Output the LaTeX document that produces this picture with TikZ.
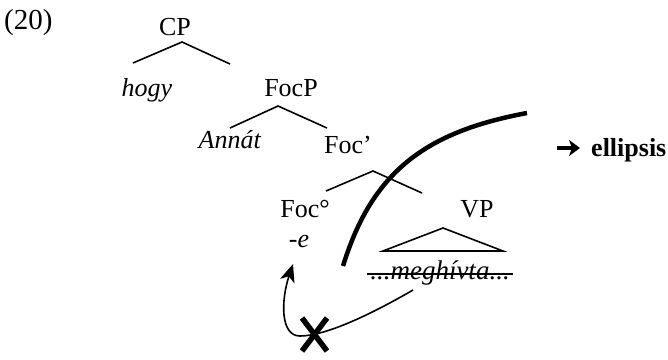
\documentclass[tikz,border=0pt]{standalone}
\usepackage{fontspec}
\setmainfont{Liberation Serif}
\usetikzlibrary{arrows.meta}
\tikzset{
  lbl/.style={font=\fontsize{26}{30}\selectfont, inner sep=0pt, anchor=base},
  branch/.style={line width=1.6pt},
  ellipsiscurve/.style={line width=4.5pt},
  movearrow/.style={line width=1.6pt, -{Stealth[length=18pt,width=15pt,inset=5pt]}},
  crossmark/.style={line width=5.5pt},
  boldarrow/.style={line width=4.5pt, -{Stealth[length=11pt,width=16pt,inset=3pt]}}
}
\begin{document}
\begin{tikzpicture}[x=1pt,y=-1pt]
\useasboundingbox (0,0) rectangle (668,359);
% labels
\node[lbl, anchor=base west, font=\fontsize{29}{32}\selectfont] (ex) at (4,29) {(20)};
\node[lbl] (cp) at (175,35) {CP};
\node[lbl] (hogy) at (147,96) {\textit{hogy}};
\node[lbl] (focp) at (291,96) {FocP};
\node[lbl] (annat) at (230,148) {\textit{Annát}};
\node[lbl] (focbar) at (348,153) {Foc’};
\node[lbl] (foc0) at (305,217) {Foc°};
\node[lbl] (vp) at (477,217) {VP};
\node[lbl] (e) at (299,247) {\textit{-e}};
\node[lbl, font=\fontsize{27}{30}\selectfont] (megh) at (440,279) {\textit{...meghívta...}};
\node[lbl, anchor=base west] (ell) at (591,156) {\textbf{ellipsis}};
\coordinate (arA) at (557,148);
\coordinate (arB) at (580,148);
\draw[boldarrow] (arA) -- (arB);
% tree branch points
\coordinate (cpT) at (182,42);
\coordinate (cpL) at (133,63);
\coordinate (cpR) at (230,64);
\coordinate (fpT) at (278,106);
\coordinate (fpL) at (230,128);
\coordinate (fpR) at (327,128);
\coordinate (fbT) at (373,171);
\coordinate (fbL) at (326,191);
\coordinate (fbR) at (422,193);
\coordinate (vpT) at (443,228);
\coordinate (vpL) at (383,251);
\coordinate (vpR) at (503,251);
\draw[branch] (cpL) -- (cpT) -- (cpR);
\draw[branch] (fpL) -- (fpT) -- (fpR);
\draw[branch] (fbL) -- (fbT) -- (fbR);
\draw[branch] (vpL) -- (vpT) -- (vpR) -- cycle;
% strike-through
\coordinate (sL) at (367,274);
\coordinate (sR) at (513,274);
\draw[line width=1.6pt] (sL) -- (sR);
% thick ellipsis curve
\coordinate (c0) at (343,266);
\coordinate (c1) at (527,113);
\draw[ellipsiscurve] (c0) .. controls (372,172) and (425,132) .. (c1);
% movement arrow
\coordinate (m0) at (413,290);
\coordinate (mx) at (300,336);
\coordinate (m1) at (293,264);
\draw[movearrow] (m0) .. controls (370,315) and (325,336) .. (mx) .. controls (280,336) and (281,300) .. (m1);
% cross
\coordinate (x1) at (302,318);
\coordinate (x2) at (327,351);
\coordinate (x3) at (327,318);
\coordinate (x4) at (302,351);
\draw[crossmark] (x1) -- (x2);
\draw[crossmark] (x3) -- (x4);
\end{tikzpicture}
\end{document}
